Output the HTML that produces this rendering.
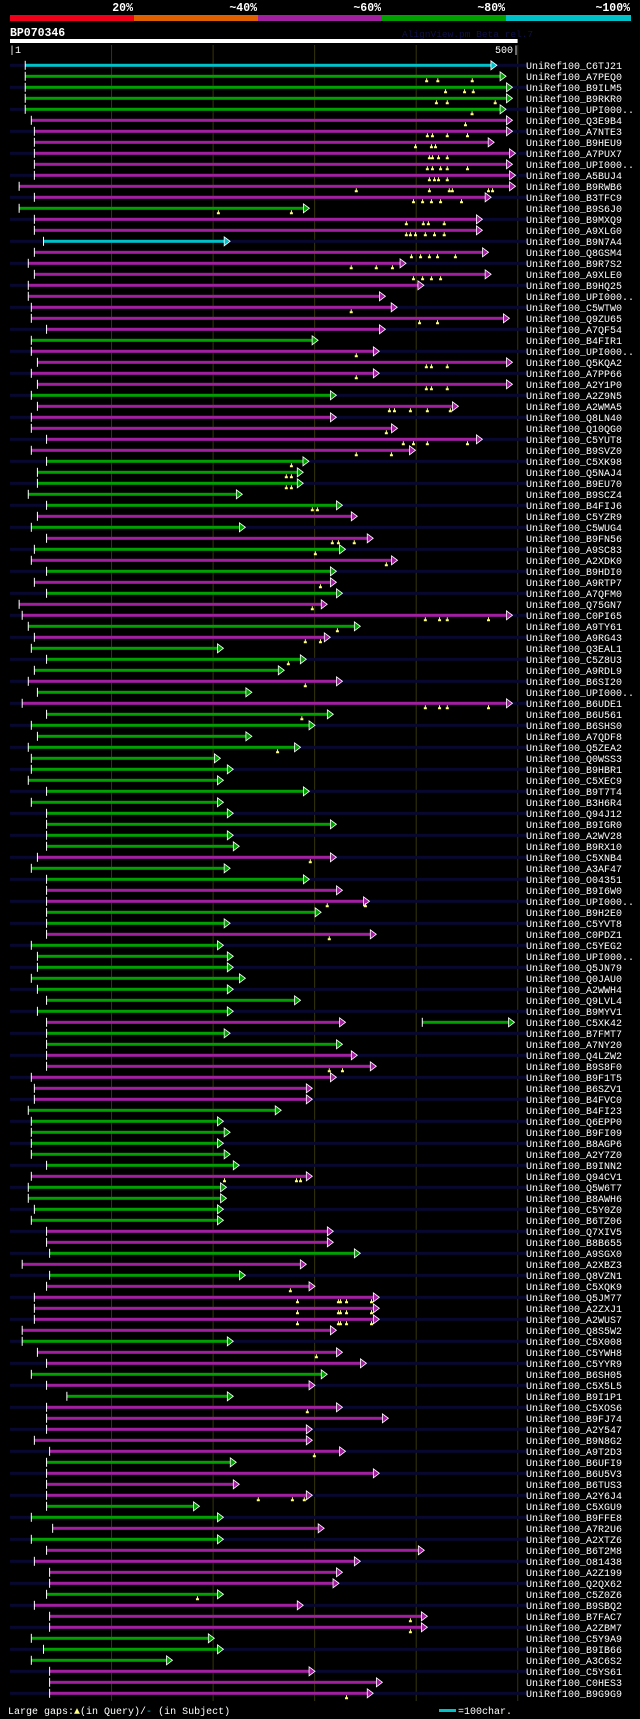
<!DOCTYPE html>
<html><head><meta charset="utf-8"><style>
html,body{margin:0;padding:0;background:#000;}
svg{display:block;}
text{font-family:"Liberation Mono",monospace;}
</style></head><body>
<svg id="chart" width="640" height="1719" viewBox="0 0 640 1719" xmlns="http://www.w3.org/2000/svg">
<rect x="0" y="0" width="640" height="1719" fill="#000"/>
<g>
<rect x="10" y="15" width="124" height="6" fill="#f00018"/>
<rect x="134" y="15" width="124" height="6" fill="#e06000"/>
<rect x="258" y="15" width="124" height="6" fill="#a020a0"/>
<rect x="382" y="15" width="124" height="6" fill="#00a000"/>
<rect x="506" y="15" width="125" height="6" fill="#00c0c8"/>
<text x="133" y="11" fill="#fff" font-size="11.5" font-weight="bold" text-anchor="end">20%</text>
<text x="257" y="11" fill="#fff" font-size="11.5" font-weight="bold" text-anchor="end">~40%</text>
<text x="381" y="11" fill="#fff" font-size="11.5" font-weight="bold" text-anchor="end">~60%</text>
<text x="505" y="11" fill="#fff" font-size="11.5" font-weight="bold" text-anchor="end">~80%</text>
<text x="630" y="11" fill="#fff" font-size="11.5" font-weight="bold" text-anchor="end">~100%</text>
</g>
<text x="10" y="36" fill="#fff" font-size="11.5" font-weight="bold">BP070346</text>
<text x="402" y="37" fill="#101048" font-size="9.5">AlignView.pm Beta rel.7</text>
<rect x="10" y="39" width="507.6" height="4" fill="#fff"/>
<text x="9" y="53" fill="#fff" font-size="10">|1</text>
<text x="519" y="53" fill="#fff" font-size="10" text-anchor="end">500|</text>
<g id="grid"></g>
<g id="rows"></g>
<g>
<text x="8" y="1714" fill="#fff" font-size="10">Large gaps:<tspan fill="#ffff80">▲</tspan>(in Query)/<tspan fill="#00c0c8">-</tspan> (in Subject)</text>
<rect x="439" y="1709" width="17" height="3" fill="#00c0c8"/>
<text x="458" y="1714" fill="#fff" font-size="10">=100char.</text>
</g>
</svg>
<script>
const labels = ["C6TJ21","A7PEQ0","B9ILM5","B9RKR0","UPI000..","Q3E9B4","A7NTE3","B9HEU9","A7PUX7","UPI000..","A5BUJ4","B9RWB6","B3TFC9","B9S6J0","B9MXQ9","A9XLG0","B9N7A4","Q8GSM4","B9R7S2","A9XLE0","B9HQ25","UPI000..","C5WTW0","Q9ZU65","A7QF54","B4FIR1","UPI000..","Q5KQA2","A7PP66","A2Y1P0","A2Z9N5","A2WMA5","Q8LN40","Q10QG0","C5YUT8","B9SVZ0","C5XK98","Q5NAJ4","B9EU70","B9SCZ4","B4FIJ6","C5YZR9","C5WUG4","B9FN56","A9SC83","A2XDK0","B9HDI0","A9RTP7","A7QFM0","Q75GN7","C0PI65","A9TY61","A9RG43","Q3EAL1","C5Z8U3","A9RDL9","B6SI20","UPI000..","B6UDE1","B6U561","B6SHS0","A7QDF8","Q5ZEA2","Q0WSS3","B9HBR1","C5XEC9","B9T7T4","B3H6R4","Q94J12","B9IGR0","A2WV28","B9RX10","C5XNB4","A3AF47","O04351","B9I6W0","UPI000..","B9H2E0","C5YVT8","C0PDZ1","C5YEG2","UPI000..","Q5JN79","Q0JAU0","A2WWH4","Q9LVL4","B9MYV1","C5XK42","B7FMT7","A7NY20","Q4LZW2","B9S8F0","B9F1T5","B6SZV1","B4FVC0","B4FI23","Q6EPP0","B9FI09","B8AGP6","A2Y7Z0","B9INN2","Q94CV1","Q5W6T7","B8AWH6","C5Y0Z0","B6TZ06","Q7XIV5","B8B655","A9SGX0","A2XBZ3","Q8VZN1","C5XQK9","Q5JM77","A2ZXJ1","A2WUS7","Q8S5W2","C5X008","C5YWH8","C5YYR9","B6SH05","C5X5L5","B9I1P1","C5XOS6","B9FJ74","A2Y547","B9N8G2","A9T2D3","B6UFI9","B6U5V3","B6TUS3","A2Y6J4","C5XGU9","B9FFE8","A7R2U6","A2XTZ6","B6T2M8","O81438","A2Z199","Q2QX62","C5Z0Z6","B9SBQ2","B7FAC7","A2ZBM7","C5Y9A9","B9IB66","A3C6S2","C5YS61","C0HES3","B9G9G9"];
const starts = [15,15,15,15,15,21,24,24,24,24,24,9,24,9,24,24,33,24,18,24,18,18,21,21,36,21,21,27,21,27,
21,27,21,21,36,21,36,27,27,18,36,27,21,36,24,21,36,24,36,9,12,18,24,21,36,24,18,27,12,36,
21,27,18,21,21,18,36,21,36,36,36,36,27,21,36,36,36,36,36,36,21,27,27,21,27,36,27,36,36,36,
36,36,21,24,24,18,21,21,21,21,36,21,18,18,24,21,36,36,39,12,39,36,24,24,24,12,12,27,36,21,
36,56,36,36,36,24,39,36,36,36,36,36,21,42,21,36,24,39,39,36,24,39,39,21,33,21,39,39,39];
const ends = [479.5,488.5,494.8,494.8,488.5,494.8,494.8,476.8,497.8,494.8,497.8,497.8,473.8,294.8,465.2,465.2,216.8,471.2,390,473.8,407.6,369.7,381.3,491.8,369.7,303.4,363.7,494.8,363.7,494.8,
321.4,441.6,321.4,381.6,465.2,399.3,294.4,288.8,288.8,228.8,327.4,342,231.8,357.7,330.4,381.6,321.4,321.4,327.4,312.4,494.8,345,315.4,210.2,291.8,270.1,327.4,238.2,494.8,318.4,
300.4,238.2,286.1,207.2,219.9,210.2,294.8,210.2,219.9,321.4,219.9,225.8,321.4,216.8,294.8,327.4,354,306.4,216.8,360.7,210.2,219.9,219.9,231.8,219.9,286.1,219.9,330.4,216.8,327.4,
342,360.7,321.4,297.7,297.7,267.1,210.2,216.8,210.2,216.8,225.8,297.7,213.2,213.2,210.2,210.2,318.4,318.4,345,291.8,231.8,300.4,363.7,363.7,363.7,321.4,219.9,327.4,351,312.4,
300.4,219.9,327.4,372.6,297.7,297.7,330.4,222.8,363.7,225.8,297.7,186.6,210.2,309.4,210.2,408,345,327.4,324,210.2,288.8,411,411,201.2,210.2,160,300.4,366.7,357.7];
const identity = "cggggmmmmm"+"mmmgmmcmmm"+"mmmmmgmmmm"+"gmmmmmgggg"+"gmgmgmgmgm"+"mgmgggmgmg"+"gggggggggg"+"ggmggmmggm"+"gggggggmgg"+"mmmmmggggg"+"gmggggmmgm"+"gmmmmmgmmg"+"mgmmmmmgmm"+"mggmgmmmmg"+"mmmgggmmm";
const extraRows = [88];
const extraStarts = [406];
const extraEnds = [496.8];
const extraIdentity = ["g"];
const markerRows = [2,2,2,3,3,3,4,4,4,5,6,7,7,7,7,8,8,8,9,9,9,9,10,10,10,10,10,11,11,11,11,12,12,12,12,12,12,13,13,13,13,13,14,14,15,15,15,15,16,16,16,16,16,16,18,18,18,18,18,19,19,19,20,20,20,20,23,24,24,27,28,28,28,29,30,30,30,32,32,32,32,32,34,35,35,35,35,36,36,37,38,38,39,39,41,41,44,44,44,45,46,48,50,51,51,51,51,52,53,53,55,57,59,59,59,59,60,63,73,77,77,80,92,92,102,102,102,112,113,113,113,113,113,114,114,114,114,114,115,115,115,115,115,118,123,127,131,131,131,140,142,143,149];
const markerPos = [410.3,421.3,455.2,428.9,447.6,456.2,419.9,430.6,477.8,455,448.5,411,416,430.6,450.5,399.3,415,419,413,416,422,430.6,411,416,424,430.6,450.5,413,418,422,430.6,341,413,432.6,435.6,471.2,475.2,397.3,406.3,415,424,444.6,205.2,277.1,390.3,407,412,427.6,390.3,394.3,399.3,409,418,427.6,395.3,404.3,413,421,438.6,336,360.7,376.6,397.3,406.3,415,424,336,403.3,421,341,410,415,430.6,341,410,415,430.6,373.6,378.6,394.3,411,433.6,370.6,387.3,397.3,411,450.5,341,375.6,277.1,272.1,277.1,272.1,277.1,297.7,302.7,317.4,323.4,339,300.7,370.6,305.7,297.7,409,423,430.6,471.2,322.4,290.8,305.7,274.1,290.8,409,423,430.6,471.2,287.4,263.5,295.7,312.4,350,314.4,314.4,327.4,211.2,282.1,286.1,276.1,283.1,323.4,325.4,331.4,356,283.1,323.4,325.4,331.4,356,283.1,323.4,325.4,331.4,356,301.7,292.8,299.7,244.5,278.1,289.8,184.6,394.3,394.3,331.4];
const gridTicks = [100,200,300,400,500];

const NS = "http://www.w3.org/2000/svg";
const colorOf = {c:"#00c0c8", g:"#00a000", m:"#a21fa0"};
function X(p){ return 10 + p * 1.0155; }
function Y(row){ return 65.3 + 11 * (row - 1); }
function mk(tag, attrs, parent){
  const el = document.createElementNS(NS, tag);
  for (const k in attrs) el.setAttribute(k, attrs[k]);
  parent.appendChild(el);
  return el;
}
const grid = document.getElementById('grid');
gridTicks.forEach(t => {
  const l = mk('rect', {x: X(t) - 0.5, y: 45, width: 1, height: 1656, fill: '#35350c'}, grid);
  
  
});
const rowsG = document.getElementById('rows');
function drawHit(parent, row, s, e, col){
  const y = Y(row);
  const tip = X(e);
  const bar = mk('rect', {x: X(s), y: y - 1.5, width: Math.max(0, tip - 6 - X(s)), height: 3, fill: colorOf[col]}, parent);
  
  
  const tick = mk('rect', {x: X(s) - 0.5, y: y - 4.5, width: 1, height: 9, fill: '#fff'}, parent);
  
  
  const arr = mk('polygon', {points: (tip-6)+','+(y-4.5)+' '+tip+','+y+' '+(tip-6)+','+(y+4.5), fill: colorOf[col], stroke: '#fff', 'stroke-width': 0.8}, parent);
  
  
}
labels.forEach((lab, i) => {
  const row = i + 1;
  const y = Y(row);
  const g = mk('g', {}, rowsG);
  
  
  if (row % 2 === 1) {
    const bg = mk('rect', {x: 10, y: y - 1.5, width: 517, height: 3, fill: '#070730'}, g);
    
    
  }
  drawHit(g, row, starts[i], ends[i], identity[i]);
  const t = mk('text', {x: 526, y: y + 3.5, fill: '#fff', 'font-size': 10}, g);
  t.textContent = 'UniRef100_' + lab;
  
  
});
extraRows.forEach((row, j) => {
  const g = mk('g', {}, rowsG);
  
  
  drawHit(g, row, extraStarts[j], extraEnds[j], extraIdentity[j]);
});
markerRows.forEach((row, j) => {
  const y = Y(row);
  const x = X(markerPos[j]);
  const m = mk('path', {d: 'M'+(x-0.5)+' '+(y+2)+'h1v2h1v2h-3v-2h1z', fill: '#ffff80'}, rowsG);
  
  
});
</script>
</body></html>
